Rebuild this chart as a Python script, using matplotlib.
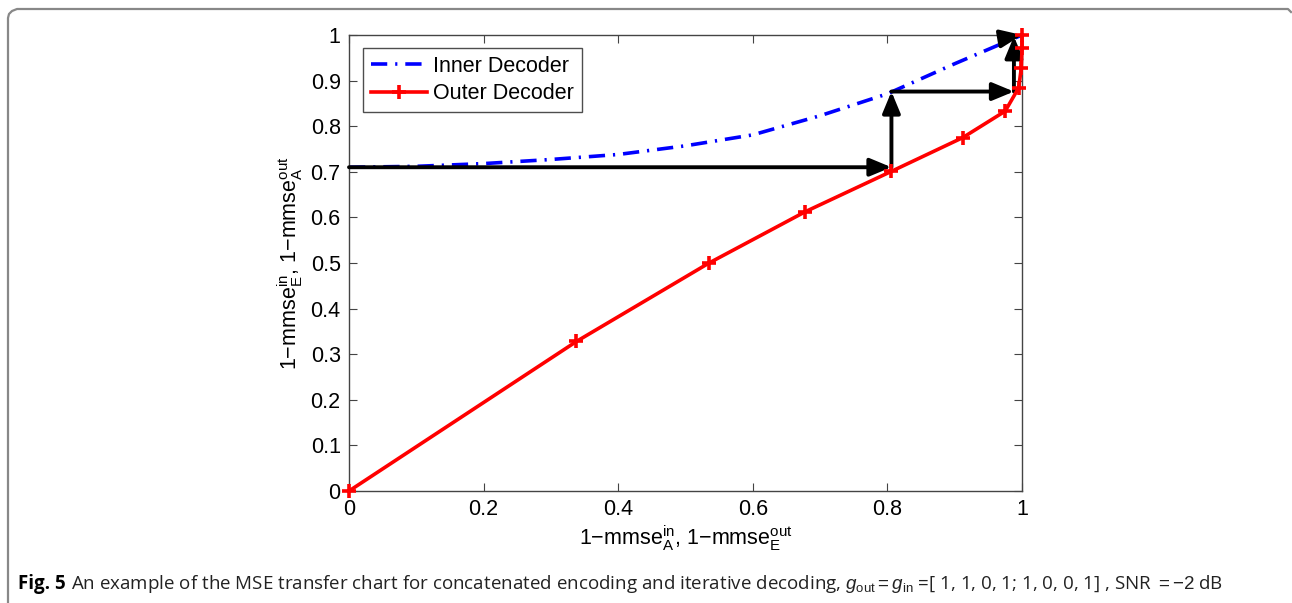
import numpy as np
import matplotlib
matplotlib.use('Agg')
from matplotlib import pyplot as plt
from matplotlib.lines import Line2D

plt.rcParams['font.family'] = ['Liberation Sans', 'DejaVu Sans']
plt.rcParams['mathtext.fontset'] = 'custom'
plt.rcParams['mathtext.rm'] = 'Liberation Sans'
plt.rcParams['mathtext.it'] = 'Liberation Sans:italic'
plt.rcParams['mathtext.bf'] = 'Liberation Sans:bold'

# inner decoder transfer curve
inner_x = [0, 0.1, 0.2, 0.3, 0.4, 0.5, 0.6, 0.7, 0.8, 0.9, 1.0]
inner_y = [0.71, 0.712, 0.718, 0.727, 0.738, 0.757, 0.781, 0.823, 0.871, 0.937, 1.0]

# outer decoder curve (swapped axes), markers at each point
outer_x = [0, 0.338, 0.535, 0.678, 0.806, 0.912, 0.975, 0.995, 0.999, 1.0, 1.0]
outer_y = [0, 0.328, 0.5, 0.6125, 0.701, 0.775, 0.833, 0.884, 0.928, 0.971, 1.0]

# decoding trajectory (staircase)
traj_x = [0, 0.806, 0.806, 0.988, 0.988, 1.0]
traj_y = [0.71, 0.71, 0.876, 0.876, 0.997, 1.0]

xticks = [0, 0.2, 0.4, 0.6, 0.8, 1]
yticks = [0, 0.1, 0.2, 0.3, 0.4, 0.5, 0.6, 0.7, 0.8, 0.9, 1]

fig = plt.figure(figsize=(12.92, 6.03), dpi=100)
ax = fig.add_axes([349/1292, 1-491/603, 673/1292, 456/603])

ax.plot(inner_x, inner_y, color='#0000ff', lw=2.6, linestyle=(0, (4.5, 2.2, 0.6, 2.2)),
        label='Inner Decoder')
ax.plot(outer_x, outer_y, color='#ff0000', lw=2.6, marker='+', markersize=10,
        markeredgewidth=2.6, label='Outer Decoder', clip_on=False, zorder=4)

for i in range(len(traj_x)-1):
    ax.annotate('', xy=(traj_x[i+1], traj_y[i+1]), xytext=(traj_x[i], traj_y[i]),
                arrowprops=dict(arrowstyle='-|>,head_length=0.65,head_width=0.27',
                                lw=2.8, color='k', mutation_scale=20,
                                shrinkA=0, shrinkB=0), zorder=3)

ax.set_xlim(0, 1)
ax.set_ylim(0, 1)
ax.set_xticks(xticks)
ax.set_yticks(yticks)
ax.set_xticklabels(['0', '0.2', '0.4', '0.6', '0.8', '1'])
ax.set_yticklabels(['0', '0.1', '0.2', '0.3', '0.4', '0.5', '0.6', '0.7', '0.8', '0.9', '1'])
ax.tick_params(direction='in', length=6, width=0.8, labelsize=15.5, top=True, right=True,
               color='#444444', pad=6)
for s in ax.spines.values():
    s.set_color('#444444')
    s.set_linewidth(1.0)

ax.set_xlabel(r'1$-$mmse$_{\rm A}^{\rm in}$, 1$-$mmse$_{\rm E}^{\rm out}$', fontsize=15.5, labelpad=2)
ax.set_ylabel(r'1$-$mmse$_{\rm E}^{\rm in}$, 1$-$mmse$_{\rm A}^{\rm out}$', fontsize=15.5, labelpad=4)

leg = ax.legend(loc='upper left', bbox_to_anchor=(0.021, 0.971), fontsize=15.5, frameon=True,
                fancybox=False, edgecolor='#222222', handlelength=2.6, borderpad=0.35,
                labelspacing=0.3, handletextpad=0.3, borderaxespad=0)
leg.get_frame().set_linewidth(1.0)

# frame around figure (left and top, rounded corner)
W, H = 1292.0, 603.0
bx = [8, 8, 9, 12, 17, 1288, 1291]
by = [603, 18, 14, 11, 9, 9, 12]
fig.add_artist(Line2D([v/W for v in bx], [1-v/H for v in by], color='#888888', lw=1.6,
                      transform=fig.transFigure))

# caption
t1 = fig.text(18/W, 1-589/H, 'Fig. 5', fontsize=13.5, fontweight='bold', family='Open Sans')
fig.canvas.draw()
bb = t1.get_window_extent()
fig.text((bb.x1 + 5)/W, 1-589/H,
         r'An example of the MSE transfer chart for concatenated encoding and iterative decoding, '
         r'$g_{\rm out}=g_{\rm in}$ =[ 1, 1, 0, 1; 1, 0, 0, 1] , SNR $=-2$ dB',
         fontsize=13.5, family='Open Sans', color='#222222')

fig.savefig('out.png', dpi=100)
